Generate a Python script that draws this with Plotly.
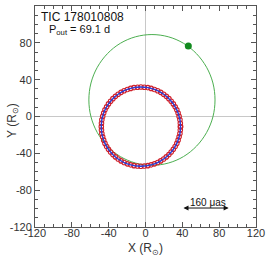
import plotly.graph_objects as go

# Inner orbit (data points + model), in R_sun
ring_x = [38.0, 37.8, 37.4, 36.5, 35.4, 34.0, 32.2, 30.2, 27.9, 25.4, 22.6, 19.7, 16.5, 13.2, 9.7, 6.1, 2.5, -1.3,
          -5.0, -8.7, -12.5, -16.1, -19.7, -23.2, -26.5, -29.7, -32.6, -35.4, -37.9, -40.2, -42.2, -44.0, -45.4, -46.5, -47.4, -47.8,
          -48.0, -47.8, -47.4, -46.5, -45.4, -44.0, -42.2, -40.2, -37.9, -35.4, -32.6, -29.7, -26.5, -23.2, -19.7, -16.1, -12.5, -8.7,
          -5.0, -1.3, 2.5, 6.1, 9.7, 13.2, 16.5, 19.7, 22.6, 25.4, 27.9, 30.2, 32.2, 34.0, 35.4, 36.5, 37.4, 37.8, 38.0]
ring_y = [-11.0, -7.3, -3.5, 0.1, 3.7, 7.2, 10.5, 13.7, 16.6, 19.4, 21.9, 24.2, 26.2, 28.0, 29.4, 30.5, 31.4, 31.8,
          32.0, 31.8, 31.4, 30.5, 29.4, 28.0, 26.2, 24.2, 21.9, 19.4, 16.6, 13.7, 10.5, 7.2, 3.7, 0.1, -3.5, -7.3,
          -11.0, -14.7, -18.5, -22.1, -25.7, -29.2, -32.5, -35.7, -38.6, -41.4, -43.9, -46.2, -48.2, -50.0, -51.4, -52.5, -53.4, -53.8,
          -54.0, -53.8, -53.4, -52.5, -51.4, -50.0, -48.2, -46.2, -43.9, -41.4, -38.6, -35.7, -32.5, -29.2, -25.7, -22.1, -18.5, -14.7, -11.0]

# Outer orbit (green)
outer_x = [75.5, 73.2, 66.3, 55.4, 41.3, 24.7, 7.0, -10.7, -27.3, -41.4, -52.3, -59.2, -61.5,
           -59.2, -52.3, -41.4, -27.3, -10.7, 7.0, 24.7, 41.3, 55.4, 66.3, 73.2, 75.5]
outer_y = [18.0, 36.4, 53.5, 68.2, 79.5, 86.6, 89.0, 86.6, 79.5, 68.2, 53.5, 36.4, 18.0,
           -0.4, -17.5, -32.2, -43.5, -50.6, -53.0, -50.6, -43.5, -32.2, -17.5, -0.4, 18.0]

dot_x = [46.5]
dot_y = [76.5]

tick_vals = [-120, -80, -40, 0, 40, 80, 120]
tick_text = ["-120", "-80", "-40", "0", "40", "80", "120"]

scale_x = [39.6, 90.3]
scale_y = [-99.4, -99.4]
scale_label = "160 μas"

title_text = "TIC 178010808"
period_text = "P<sub>out</sub> = 69.1 d"
x_title = "X (R<sub>⊙</sub>)"
y_title = "Y (R<sub>⊙</sub>)"

FONT = "Liberation Sans, Arial, sans-serif"

fig = go.Figure()
fig.add_trace(go.Scatter(x=outer_x, y=outer_y, mode="lines", line=dict(color="#4caf50", width=1, shape="spline"),
                         hoverinfo="skip"))
fig.add_trace(go.Scatter(x=ring_x, y=ring_y, mode="markers",
                         marker=dict(symbol="circle-open", size=4.5, color="#d0202a", line=dict(width=1.1, color="#d0202a"))))
fig.add_trace(go.Scatter(x=ring_x, y=ring_y, mode="lines", line=dict(color="#2a3fd8", width=1.4, shape="spline")))
fig.add_trace(go.Scatter(x=dot_x, y=dot_y, mode="markers", marker=dict(color="#118a1e", size=7)))

axis_common = dict(range=[-120, 120], tickmode="array", tickvals=tick_vals, ticktext=tick_text,
                   ticks="inside", ticklen=5, tickwidth=1, automargin=False,
                   tickcolor="#555", mirror="allticks", showline=True, linecolor="#555", linewidth=1,
                   showgrid=False, zeroline=True, zerolinecolor="#c8c8c8", zerolinewidth=1,
                   tickfont=dict(family=FONT, size=11, color="#333"),
                   minor=dict(dtick=10, tick0=0, ticks="inside", ticklen=3, tickcolor="#555", showgrid=False))

fig.update_xaxes(**axis_common, ticklabelstandoff=-4)
fig.update_yaxes(**axis_common)

fig.add_annotation(x=0.5, y=-0.10, xref="paper", yref="paper", text=x_title, showarrow=False,
                   xanchor="center", yanchor="middle", font=dict(family=FONT, size=12, color="#333"))
fig.add_annotation(x=-0.10, y=0.484, xref="paper", yref="paper", text=y_title, showarrow=False, textangle=-90,
                   xanchor="center", yanchor="middle", font=dict(family=FONT, size=12, color="#333"))

fig.add_annotation(x=0.018, y=0.948, xref="paper", yref="paper", text=title_text, showarrow=False,
                   xanchor="left", yanchor="middle", font=dict(family=FONT, size=12, color="#111"))
fig.add_annotation(x=0.054, y=0.893, xref="paper", yref="paper", text=period_text, showarrow=False,
                   xanchor="left", yanchor="middle", font=dict(family=FONT, size=11, color="#111"))
fig.add_annotation(x=scale_x[1], y=scale_y[1], ax=scale_x[0], ay=scale_y[0], xref="x", yref="y", axref="x", ayref="y",
                   text="", showarrow=True, arrowhead=2, arrowside="end+start", arrowsize=1, arrowwidth=1,
                   arrowcolor="#111")
fig.add_annotation(x=(scale_x[0] + scale_x[1]) / 2 + 2.5, y=scale_y[0] + 6.5, xref="x", yref="y", text=scale_label,
                   showarrow=False, font=dict(family=FONT, size=10, color="#111"))

fig.update_layout(width=266, height=260, margin=dict(l=35, r=10, t=6, b=33), showlegend=False,
                  plot_bgcolor="white", paper_bgcolor="white")

fig.write_html("out.html", config={"displayModeBar": False},
               post_script="document.body.style.margin='0';document.body.style.overflow='hidden';")
